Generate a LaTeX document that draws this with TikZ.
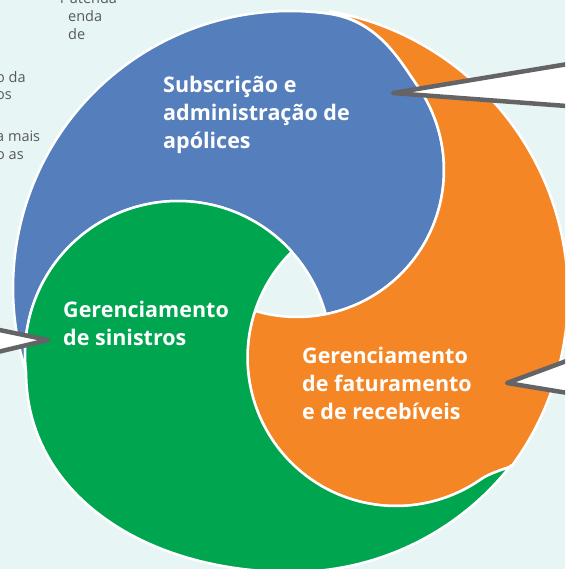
\documentclass[tikz,border=0pt]{standalone}
\usepackage{fontspec}
\setmainfont{Open Sans}
\definecolor{bgc}{RGB}{232,245,245}
\definecolor{cblue}{RGB}{85,127,188}
\definecolor{corange}{RGB}{245,134,38}
\definecolor{cgreen}{RGB}{0,165,80}
\definecolor{cgray}{RGB}{100,100,102}
\definecolor{ctext}{RGB}{88,89,91}
\tikzset{
  piece/.style={draw=white, line width=2.5pt, line join=round},
  wedge/.style={fill=white, draw=cgray, line width=4.5pt, line join=round, line cap=round},
  lbl/.style={text=white, font=\bfseries\fontsize{21.5}{28}\selectfont, inner sep=0pt, anchor=base west},
  side/.style={text=ctext, font=\fontsize{14.5}{18}\selectfont, inner sep=0pt, anchor=base west}
}
\begin{document}
\begin{tikzpicture}[x=1pt,y=-1pt]
\useasboundingbox (0,0) rectangle (565,569);
\clip (0,0) rectangle (565,569);
\fill[bgc] (0,0) rectangle (565,569);

% side text fragments
\node[side] (s0) at (60,4) {r atenda};
\node[side] (s1) at (68,22) {enda};
\node[side] (s2) at (68,40) {de};
\node[side] (s3) at (-4,83) {o da};
\node[side] (s4) at (-4,100) {os};
\node[side] (s5) at (-4,142) {a mais};
\node[side] (s6) at (-4,160) {o as};

% blue piece
\fill[cblue, piece]
  plot[domain=162.3:278.3, samples=80] ({290+277*cos(\x)}, {288+277*sin(\x)})
  -- (330,13.9) .. controls (379.3,21.8) and (400.2,61.1) .. (417.4,85.7)
  -- plot[domain=-35:78.7, samples=60] ({297+147*cos(\x)}, {170+147*sin(\x)})
  -- plot[domain=-15.06:-186.8, samples=90] ({178+153*cos(\x)}, {354+153*sin(\x)})
  -- cycle;

% orange piece
\fill[corange, piece]
  plot[domain=-79.95:36.5, samples=80] ({280+288*cos(\x)}, {295+288*sin(\x)})
  -- (511.5,466.3) .. controls (503,469.5) and (489.4,473.4) .. (481.2,479.1)
  -- plot[domain=55:198.3, samples=70] ({396+148.5*cos(\x)}, {357.5+148.5*sin(\x)})
  -- plot[domain=106.6:-35, samples=70] ({297+147*cos(\x)}, {170+147*sin(\x)})
  .. controls (400.2,61.1) and (379.3,21.8) .. (330,13)
  -- cycle;

% green piece
\fill[cgreen, piece]
  (511.5,466.3)
  -- plot[domain=38.1:90, samples=50] ({292+278*cos(\x)}, {294+278*sin(\x)})
  .. controls (142,572) and (26.1,492) .. (26.1,372.2)
  -- plot[domain=-186.8:-42, samples=80] ({178+153*cos(\x)}, {354+153*sin(\x)})
  -- plot[domain=225.4:55, samples=90] ({396+148.5*cos(\x)}, {357.5+148.5*sin(\x)})
  .. controls (489.4,473.4) and (503,469.5) .. (511.5,466.3)
  -- cycle;

% callout wedges
\coordinate (w1a) at (580,62);
\coordinate (w1t) at (393,93);
\coordinate (w1b) at (580,107);
\filldraw[wedge] (w1a) -- (w1t) -- (w1b);
\coordinate (w2a) at (-15,327);
\coordinate (w2t) at (48,340);
\coordinate (w2b) at (-15,355);
\filldraw[wedge] (w2a) -- (w2t) -- (w2b);
\coordinate (w3a) at (580,356);
\coordinate (w3t) at (507,383);
\coordinate (w3b) at (580,395);
\filldraw[wedge] (w3a) -- (w3t) -- (w3b);

% labels
\node[lbl] (a1) at (163,93) {Subscrição e};
\node[lbl] (a2) at (163,121) {administração de};
\node[lbl] (a3) at (163,149) {apólices};
\node[lbl] (b1) at (63,317) {Gerenciamento};
\node[lbl] (b2) at (63,345) {de sinistros};
\node[lbl] (c1) at (302,363) {Gerenciamento};
\node[lbl] (c2) at (302,391) {de faturamento};
\node[lbl] (c3) at (302,419) {e de recebíveis};
\end{tikzpicture}
\end{document}
